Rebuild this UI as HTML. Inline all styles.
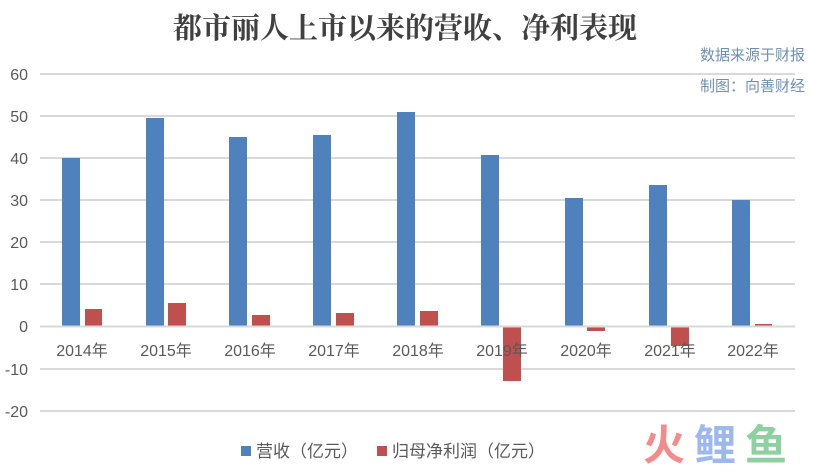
<!DOCTYPE html>
<html><head><meta charset="utf-8"><style>
body{margin:0;background:#fff;}
svg text{font-family:"Liberation Sans","Noto Sans CJK SC",sans-serif;}
</style></head><body>
<svg width="814" height="467" viewBox="0 0 814 467" xmlns="http://www.w3.org/2000/svg">
<rect width="814" height="467" fill="#fff"/>
<text x="405" y="38" text-anchor="middle" font-size="29" font-weight="bold" fill="#404040" style="font-family:'Noto Serif CJK SC','Noto Sans CJK SC',serif">都市丽人上市以来的营收、净利表现</text>
<text x="700" y="60" font-size="15" fill="#6d8fb5" style="font-family:'Noto Sans CJK SC',sans-serif">数据来源于财报</text>
<text x="700" y="91" font-size="15" fill="#6d8fb5" style="font-family:'Noto Sans CJK SC',sans-serif">制图：向善财经</text>
<g stroke="#d9d9d9" stroke-width="2">
<line x1="40" x2="795" y1="74" y2="74"/><line x1="40" x2="795" y1="116" y2="116"/>
<line x1="40" x2="795" y1="158" y2="158"/><line x1="40" x2="795" y1="200" y2="200"/>
<line x1="40" x2="795" y1="242" y2="242"/><line x1="40" x2="795" y1="284" y2="284"/>
<line x1="40" x2="795" y1="369" y2="369"/><line x1="40" x2="795" y1="411" y2="411"/>
</g>
<g font-size="16" fill="#595959" text-anchor="end">
<text x="28" y="80">60</text><text x="28" y="122">50</text><text x="28" y="164">40</text>
<text x="28" y="206">30</text><text x="28" y="248">20</text><text x="28" y="290">10</text>
<text x="28" y="332">0</text><text x="28" y="375">-10</text><text x="28" y="417">-20</text>
</g>
<g fill="#4f81bd">
<rect x="62" y="158" width="18" height="168"/>
<rect x="146" y="118" width="18" height="208"/>
<rect x="229" y="137" width="18" height="189"/>
<rect x="313" y="135" width="18" height="191"/>
<rect x="397" y="112" width="18" height="214"/>
<rect x="481" y="155" width="18" height="171"/>
<rect x="565" y="198" width="18" height="128"/>
<rect x="649" y="185" width="18" height="141"/>
<rect x="732" y="200" width="18" height="126"/>
</g>
<g fill="#c0504d">
<rect x="85" y="309" width="17" height="17"/>
<rect x="168" y="303" width="18" height="23"/>
<rect x="252" y="315" width="18" height="11"/>
<rect x="336" y="313" width="18" height="13"/>
<rect x="420" y="311" width="18" height="15"/>
<rect x="503" y="326" width="18" height="55"/>
<rect x="587" y="326" width="18" height="5"/>
<rect x="671" y="326" width="18" height="20"/>
<rect x="755" y="324" width="17" height="2"/>
</g>
<line x1="40" x2="795" y1="326.5" y2="326.5" stroke="#d9d9d9" stroke-width="2"/>
<g font-size="16" fill="#595959" text-anchor="middle" style="font-family:'Liberation Sans','Noto Sans CJK SC',sans-serif">
<text x="82" y="356">2014年</text><text x="166" y="356">2015年</text><text x="250" y="356">2016年</text>
<text x="334" y="356">2017年</text><text x="418" y="356">2018年</text><text x="502" y="356">2019年</text>
<text x="586" y="356">2020年</text><text x="670" y="356">2021年</text><text x="753" y="356">2022年</text>
</g>
<rect x="241" y="446" width="10" height="10" fill="#4f81bd"/>
<text x="256" y="457" font-size="17" fill="#595959">营收（亿元）</text>
<rect x="377" y="446" width="10" height="10" fill="#c0504d"/>
<text x="392" y="457" font-size="17" fill="#595959">归母净利润（亿元）</text>
<text x="643" y="460" font-size="42" font-weight="bold" fill="#f28b8b" style="font-family:'Noto Sans CJK SC',sans-serif">火</text>
<text x="694" y="460" font-size="42" font-weight="bold" fill="#9db8ee" style="font-family:'Noto Sans CJK SC',sans-serif">鲤</text>
<text x="745" y="460" font-size="42" font-weight="bold" fill="#8fd0a0" style="font-family:'Noto Sans CJK SC',sans-serif">鱼</text>
</svg>
</body></html>
